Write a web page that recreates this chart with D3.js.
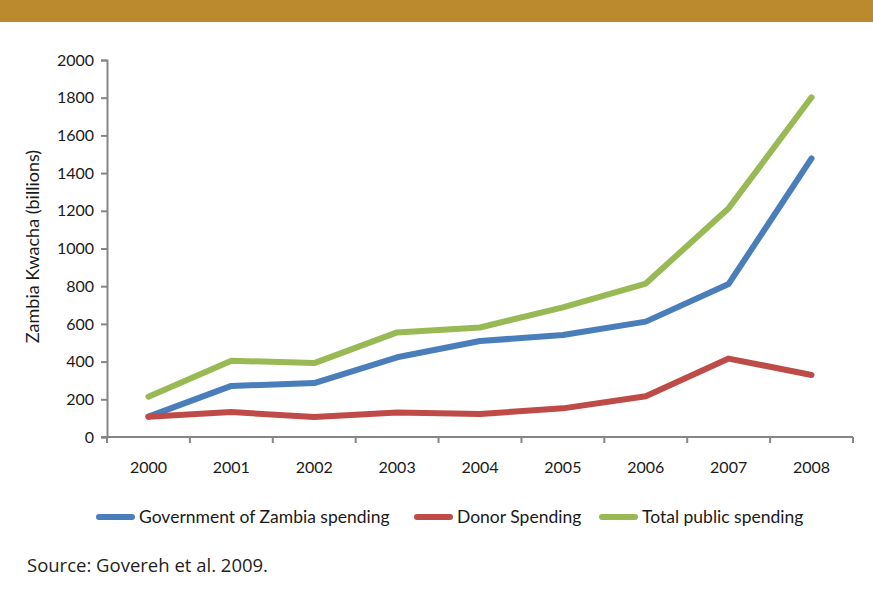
<!DOCTYPE html>
<html>
<head>
<meta charset="utf-8">
<script src="https://cdn.jsdelivr.net/npm/d3@7"></script>
<style>
  html, body { margin: 0; padding: 0; background: #fff; }
  svg { display: block; }
</style>
</head>
<body>
<svg id="chart" width="873" height="595"></svg>
<script>
// Public spending on agriculture in Zambia, billions of Kwacha
const years = ["2000", "2001", "2002", "2003", "2004", "2005", "2006", "2007", "2008"];
const govSpending   = [108, 271, 286, 423, 509, 541, 612, 812, 1478];
const donorSpending = [108, 132, 106, 130, 122, 152, 216, 416, 329];
const totalSpending = [214, 405, 392, 555, 581, 688, 814, 1214, 1802];
const yTicks = [0, 200, 400, 600, 800, 1000, 1200, 1400, 1600, 1800, 2000];
const seriesNames = ["Government of Zambia spending", "Donor Spending", "Total public spending"];
const seriesColors = ["#4A7EBB", "#BE4B48", "#98B954"];

const series = [govSpending, donorSpending, totalSpending].map((values, i) => ({
  name: seriesNames[i], color: seriesColors[i], values
}));

const svg = d3.select("#chart");
const font = "Lato, 'Open Sans', sans-serif";

// header band
svg.append("rect").attr("x", 0).attr("y", 0).attr("width", 873).attr("height", 22)
  .attr("fill", "#BC8A2E");

const plot = { left: 107, right: 853, top: 60, bottom: 437 };

const x = d3.scaleBand().domain(years).range([plot.left, plot.right]).padding(0);
const y = d3.scaleLinear().domain([0, 2000]).range([plot.bottom, plot.top]);

const axisColor = "#868686";

// y axis
const yAxis = svg.append("g")
  .attr("transform", `translate(${plot.left},0)`)
  .call(d3.axisLeft(y).tickValues(yTicks).tickSize(6).tickPadding(7).tickFormat(d3.format("d")));
yAxis.select(".domain").attr("stroke", axisColor).attr("stroke-width", 2);
yAxis.selectAll(".tick line").attr("stroke", axisColor).attr("stroke-width", 2);
yAxis.selectAll(".tick text").attr("font-family", font).attr("font-size", 16).attr("fill", "#1a1a1a");

// x axis with ticks at category boundaries
const xAxisG = svg.append("g").attr("transform", `translate(0,${plot.bottom})`);
xAxisG.append("line")
  .attr("x1", plot.left - 6).attr("x2", plot.right)
  .attr("stroke", axisColor).attr("stroke-width", 2);
const boundaries = years.map(d => x(d)).concat([x(years[years.length - 1]) + x.bandwidth()]);
xAxisG.selectAll("line.tick").data(boundaries).join("line")
  .attr("class", "tick")
  .attr("x1", d => d).attr("x2", d => d).attr("y1", 0).attr("y2", 6)
  .attr("stroke", axisColor).attr("stroke-width", 2);
xAxisG.selectAll("text").data(years).join("text")
  .attr("x", d => x(d) + x.bandwidth() / 2)
  .attr("y", 36)
  .attr("text-anchor", "middle")
  .attr("font-family", font).attr("font-size", 16).attr("fill", "#1a1a1a")
  .text(d => d);

// y axis title
svg.append("text")
  .attr("transform", `translate(39,${(plot.top + plot.bottom) / 2 - 2}) rotate(-90)`)
  .attr("text-anchor", "middle")
  .attr("font-family", font).attr("font-size", 18).attr("fill", "#1a1a1a")
  .text("Zambia Kwacha (billions)");

// lines
const line = d3.line()
  .x((d, i) => x(years[i]) + x.bandwidth() / 2)
  .y(d => y(d));

svg.append("g").selectAll("path").data(series).join("path")
  .attr("d", d => line(d.values))
  .attr("fill", "none")
  .attr("stroke", d => d.color)
  .attr("stroke-width", 6)
  .attr("stroke-linejoin", "round")
  .attr("stroke-linecap", "round");

// legend
const legendX = [97, 415, 600];
const legend = svg.append("g").attr("transform", "translate(0,517)");
const items = legend.selectAll("g").data(series).join("g")
  .attr("transform", (d, i) => `translate(${legendX[i]},0)`);
items.append("line")
  .attr("x1", 2).attr("x2", 35)
  .attr("stroke", d => d.color).attr("stroke-width", 6).attr("stroke-linecap", "round");
items.append("text")
  .attr("x", 42).attr("y", 6)
  .attr("font-family", font).attr("font-size", 17.5).attr("fill", "#1a1a1a")
  .text(d => d.name);

// source note
svg.append("text")
  .attr("x", 27).attr("y", 572)
  .attr("font-family", "'Open Sans', sans-serif").attr("font-size", 18.5).attr("fill", "#231f20")
  .text("Source: Govereh et al. 2009.");
</script>
</body>
</html>
